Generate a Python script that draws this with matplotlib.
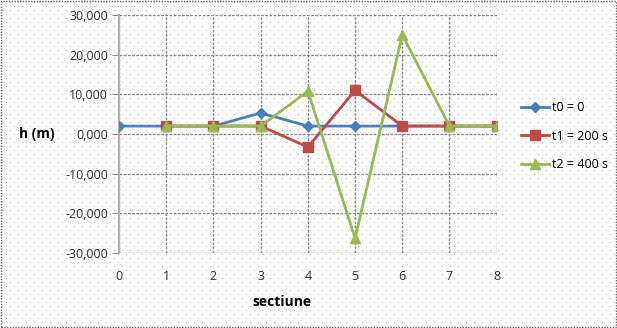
from matplotlib import pyplot as plt
from matplotlib.patches import Rectangle
from matplotlib.ticker import FuncFormatter
import numpy as np

# date
sectiuni_t0 = [0, 1, 2, 3, 4, 5, 6, 7, 8]
h_t0 = [2000, 2000, 2000, 5300, 2000, 2000, 2000, 2000, 2000]
sectiuni_t = [1, 2, 3, 4, 5, 6, 7, 8]
h_t1 = [2000, 2000, 2000, -3300, 11000, 2000, 2000, 2000]
h_t2 = [2000, 2000, 2000, 10800, -26300, 25000, 2000, 2000]
etichete = ['t0 = 0', 't1 = 200 s', 't2 = 400 s']

plt.rcParams['font.family'] = ['Open Sans', 'DejaVu Sans']

fig = plt.figure(figsize=(6.17, 3.28), dpi=100)

# fundal cu puncte (textura ca in Excel)
fundal = np.ones((328, 617, 3))
fundal[2::8, 2::8] = 0.74
fundal[6::8, 6::8] = 0.74
fig.figimage(fundal, 0, 0, zorder=-10)
fig.patches.append(Rectangle((0.001, 0.002), 0.997, 0.995, transform=fig.transFigure,
                             facecolor='none', edgecolor='#666666',
                             linestyle=(0, (1, 1)), linewidth=1, zorder=5))

ax = fig.add_axes([0.193, 0.229, 0.612, 0.725])
ax.patch.set_visible(False)

ax.plot(sectiuni_t0, h_t0, color='#4a7ebb', marker='D', markersize=5, lw=2, label=etichete[0], zorder=3)
ax.plot(sectiuni_t, h_t1, color='#be4b48', marker='s', markersize=7, lw=2, label=etichete[1], zorder=3)
ax.plot(sectiuni_t, h_t2, color='#98b954', marker='^', markersize=7, lw=2, label=etichete[2], zorder=3)

ax.set_xlim(0, 8)
ax.set_ylim(-30000, 30000)
ax.set_xticks(range(9))
ax.set_yticks(range(-30000, 30001, 10000))
ax.yaxis.set_major_formatter(FuncFormatter(lambda v, p: '%d,000' % int(v / 1000)))
for s in ['top', 'right', 'bottom']:
    ax.spines[s].set_visible(False)
ax.spines['left'].set_color('#b0b0b0')
ax.spines['left'].set_linewidth(1.5)
ax.tick_params(axis='x', length=0, pad=12, labelsize=9, labelcolor='#333333')
ax.tick_params(axis='y', length=5, pad=3, labelsize=9, labelcolor='#333333',
               color='#8c8c8c', direction='out')
ax.grid(True, color='#8c8c8c', linestyle='--', dashes=(2, 1), linewidth=1)

fig.text(0.06, 0.59, 'h (m)', fontsize=10, fontweight='bold', ha='center', va='center')
fig.text(0.457, 0.08, 'sectiune', fontsize=10, fontweight='bold', ha='center', va='center')

leg = ax.legend(loc='center left', bbox_to_anchor=(1.035, 0.49), frameon=False,
                fontsize=9, handlelength=2.2, labelspacing=1.25, handletextpad=0.3)

fig.savefig('out.png', dpi=100)
plt.close()
